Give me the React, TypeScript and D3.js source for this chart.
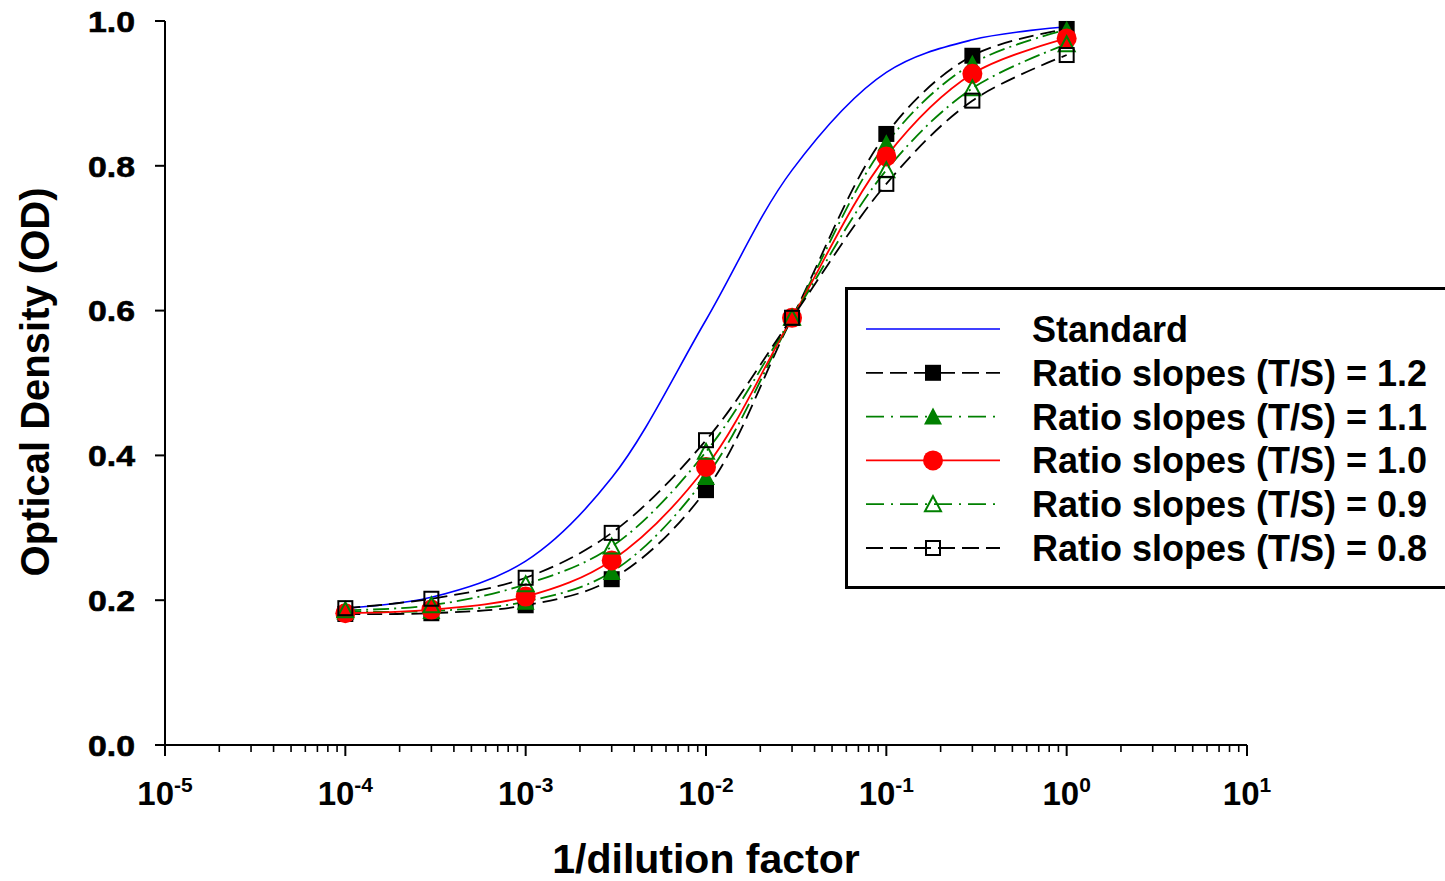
import React from "react";
import * as d3 from "d3";

const dilutions = [1e-4, 3e-4, 1e-3, 3e-3, 1e-2, 3e-2, 1e-1, 3e-1, 1];
const od12 = [0.181, 0.182, 0.193, 0.229, 0.352, 0.59, 0.844, 0.952, 0.989];
const od11 = [0.184, 0.185, 0.198, 0.239, 0.37, 0.59, 0.831, 0.941, 0.988];
const od10 = [0.182, 0.187, 0.205, 0.255, 0.384, 0.59, 0.813, 0.927, 0.976];
const od09 = [0.186, 0.193, 0.222, 0.274, 0.405, 0.59, 0.794, 0.907, 0.968];
const od08 = [0.189, 0.202, 0.231, 0.293, 0.421, 0.59, 0.775, 0.89, 0.953];

const stdX = [1e-4, 3e-4, 1e-3, 3e-3, 1e-2, 3e-2, 1e-1, 3e-1, 1];
const stdOD = [0.189, 0.204, 0.254, 0.369, 0.587, 0.794, 0.929, 0.974, 0.992];

const yTicks = [0, 0.2, 0.4, 0.6, 0.8, 1.0];
const xDecades = [-5, -4, -3, -2, -1, 0, 1];

const legendLabels = [
  "Standard",
  "Ratio slopes (T/S) = 1.2",
  "Ratio slopes (T/S) = 1.1",
  "Ratio slopes (T/S) = 1.0",
  "Ratio slopes (T/S) = 0.9",
  "Ratio slopes (T/S) = 0.8",
];

type Marker = "sqFill" | "triFill" | "circle" | "triOpen" | "sqOpen";
const seriesDefs: { key: string; values: number[]; color: string; dash: string; legendDash: string; marker: Marker; width: number }[] = [
  { key: "1.2", values: od12, color: "#000000", dash: "15,7", legendDash: "17,7", marker: "sqFill", width: 1.8 },
  { key: "1.1", values: od11, color: "#008000", dash: "16,5,2,5", legendDash: "18,7,2,7", marker: "triFill", width: 1.8 },
  { key: "1.0", values: od10, color: "#ff0000", dash: "", legendDash: "", marker: "circle", width: 1.8 },
  { key: "0.9", values: od09, color: "#008000", dash: "16,5,2,5", legendDash: "18,7,2,7", marker: "triOpen", width: 1.8 },
  { key: "0.8", values: od08, color: "#000000", dash: "15,7", legendDash: "17,7", marker: "sqOpen", width: 1.8 },
];

const FONT = "'Liberation Sans', Arial, Helvetica, sans-serif";

function MarkerShape({ type, x, y, color }: { type: Marker; x: number; y: number; color: string }) {
  const s = 16;
  const tw = 18;
  const th = 16;
  switch (type) {
    case "sqFill":
      return <rect x={x - s / 2} y={y - s / 2} width={s} height={s} fill="#000" />;
    case "sqOpen":
      return <rect x={x - s / 2 + 1} y={y - s / 2 + 1} width={s - 2} height={s - 2} fill="none" stroke="#000" strokeWidth={2} />;
    case "triFill":
      return <path d={`M${x},${y - th / 2 - 1}L${x + tw / 2},${y + th / 2}L${x - tw / 2},${y + th / 2}Z`} fill={color} />;
    case "triOpen":
      return <path d={`M${x},${y - th / 2}L${x + tw / 2 - 1},${y + th / 2 - 1}L${x - tw / 2 + 1},${y + th / 2 - 1}Z`} fill="none" stroke={color} strokeWidth={2} />;
    case "circle":
      return <circle cx={x} cy={y} r={10} fill={color} />;
  }
}

export default function App() {
  const x = d3.scaleLog().domain([1e-5, 10]).range([165, 1247]);
  const y = d3.scaleLinear().domain([0, 1]).range([745, 21]);

  const line = d3
    .line<[number, number]>()
    .x((d) => x(d[0]))
    .y((d) => y(d[1]))
    .curve(d3.curveCatmullRom.alpha(0.5));

  const minorTicks: number[] = [];
  for (let k = -5; k < 1; k++) {
    for (let m = 2; m <= 9; m++) minorTicks.push(m * Math.pow(10, k));
  }

  const legendX0 = 866;
  const legendX1 = 1000;
  const legendMid = 933;
  const legendRowY = (i: number) => 329 + i * 43.8;

  return (
    <svg
      width={1445}
      height={881}
      style={{ position: "absolute", left: 0, top: 0, background: "#fff" }}
      fontFamily={FONT}
    >
      <rect x={0} y={0} width={1445} height={881} fill="#fff" />
      {/* Axes */}
      <line x1={165} x2={165} y1={y(1)} y2={y(0)} stroke="#000" strokeWidth={2} />
      <line x1={165} x2={x(10)} y1={y(0)} y2={y(0)} stroke="#000" strokeWidth={2} />
      {yTicks.map((t) => (
        <g key={"yt" + t}>
          <line x1={155} x2={165} y1={y(t)} y2={y(t)} stroke="#000" strokeWidth={2} />
          <text
            x={135}
            y={y(t)}
            dy="0.36em"
            textAnchor="end"
            fontSize={30}
            fontWeight="bold"
            textLength={47}
            lengthAdjust="spacingAndGlyphs"
            stroke="#000"
            strokeWidth={0.6}
          >
            {t.toFixed(1)}
          </text>
        </g>
      ))}
      {xDecades.map((k) => (
        <g key={"xt" + k}>
          <line x1={x(Math.pow(10, k))} x2={x(Math.pow(10, k))} y1={y(0)} y2={y(0) + 11} stroke="#000" strokeWidth={2} />
          <text x={x(Math.pow(10, k))} y={805} textAnchor="middle" fontWeight="bold">
            <tspan fontSize={33}>10</tspan>
            <tspan fontSize={21} dy={-13}>{String(k)}</tspan>
          </text>
        </g>
      ))}
      {minorTicks.map((v, i) => (
        <line key={"mt" + i} x1={x(v)} x2={x(v)} y1={y(0)} y2={y(0) + 7} stroke="#000" strokeWidth={1.6} />
      ))}

      {/* Axis titles */}
      <text x={706} y={873} textAnchor="middle" fontSize={41} fontWeight="bold">
        1/dilution factor
      </text>
      <text
        transform={`translate(49,382) rotate(-90)`}
        textAnchor="middle"
        fontSize={40}
        fontWeight="bold"
      >
        Optical Density (OD)
      </text>

      {/* Standard curve */}
      <path
        d={line(stdX.map((v, i) => [v, stdOD[i]] as [number, number])) || ""}
        fill="none"
        stroke="#0000ff"
        strokeWidth={1.6}
      />

      {/* Series lines */}
      {seriesDefs.map((s) => (
        <path
          key={"l" + s.key}
          d={line(dilutions.map((v, i) => [v, s.values[i]] as [number, number])) || ""}
          fill="none"
          stroke={s.color}
          strokeWidth={s.width}
          strokeDasharray={s.dash || undefined}
        />
      ))}

      {/* Markers */}
      {seriesDefs.map((s) => (
        <g key={"m" + s.key}>
          {dilutions.map((v, i) => (
            <MarkerShape key={i} type={s.marker} x={x(v)} y={y(s.values[i])} color={s.color} />
          ))}
        </g>
      ))}

      {/* Legend */}
      <rect x={846.5} y={288.5} width={640} height={299} fill="#fff" stroke="#000" strokeWidth={3} />
      <line x1={legendX0} x2={legendX1} y1={legendRowY(0)} y2={legendRowY(0)} stroke="#0000ff" strokeWidth={1.6} />
      {seriesDefs.map((s, i) => (
        <g key={"lg" + s.key}>
          <line
            x1={legendX0}
            x2={legendX1}
            y1={legendRowY(i + 1)}
            y2={legendRowY(i + 1)}
            stroke={s.color}
            strokeWidth={s.width}
            strokeDasharray={s.legendDash || undefined}
          />
          <MarkerShape type={s.marker} x={legendMid} y={legendRowY(i + 1)} color={s.color} />
        </g>
      ))}
      {legendLabels.map((lab, i) => (
        <text key={"lt" + i} x={1032} y={legendRowY(i)} dy="0.36em" fontSize={36} fontWeight="bold">
          {lab}
        </text>
      ))}
    </svg>
  );
}
